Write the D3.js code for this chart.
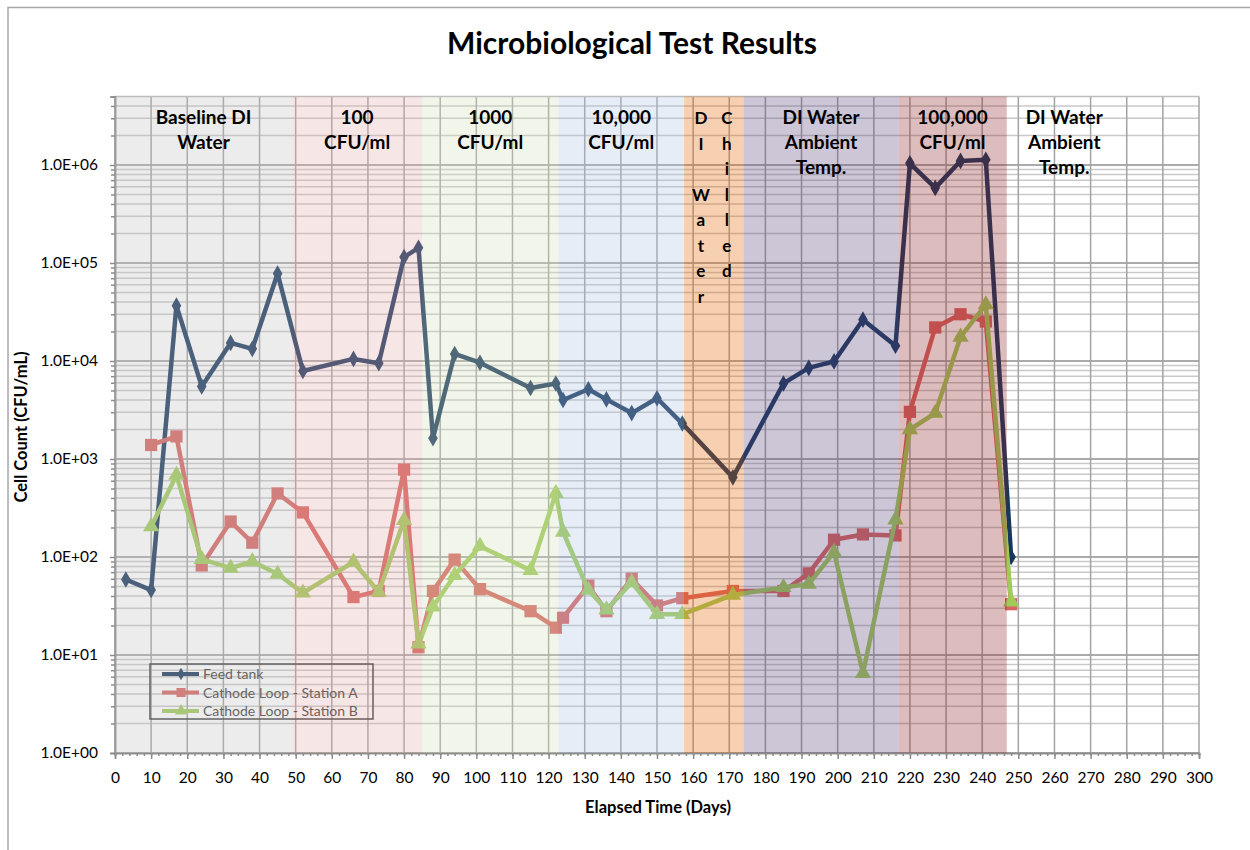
<!DOCTYPE html>
<html>
<head>
<meta charset="utf-8">
<script src="https://cdn.jsdelivr.net/npm/d3@7"></script>
<style>
    body { margin: 0; background: #fff; }
    svg { font-family: Lato, 'Open Sans', sans-serif; }
</style>
</head>
<body>
<svg id="chart" width="1250" height="850"></svg>
<script>
// sample days, feed tank has one extra reading at the start
const days = [3, 10, 17, 24, 32, 38, 45, 52, 66, 73, 80, 84, 88, 94, 101, 115, 122, 124, 131, 136,
    143, 150, 157, 171, 185, 192, 199, 207, 216, 220, 227, 234, 241, 248];

const feedTank = [59, 46, 36700, 5500, 15300, 13300, 78000, 7900, 10500, 9500, 115000, 143000, 1630,
    11800, 9600, 5300, 5900, 4000, 5150, 4060, 2940, 4170, 2300, 650, 5900, 8500, 9900, 26400, 14300,
    1040000, 584000, 1100000, 1130000, 100];

const stationA = [1390, 1700, 82, 230, 140, 445, 285, 39, 45, 780, 12, 45, 94, 47, 28, 19, 24, 51, 28,
    60, 32, 38, 45, 45, 68, 150, 170, 166, 3030, 22000, 30000, 25300, 33];

const stationB = [204, 684, 95, 77, 90, 67, 43, 89, 44, 237, 13, 31, 65, 129, 73, 446, 180, 46, 29,
    55, 26, 26, 41, 49, 53, 112, 6.5, 240, 2000, 2940, 17600, 37600, 35];

const seriesNames = ['Feed tank', 'Cathode Loop - Station A', 'Cathode Loop - Station B'];

// test phases (day ranges)
const bandEdges = [0, 49, 85, 122.7, 157.5, 174, 216.8, 246.8, 278.6];
const bandLabels = [
    ['Baseline DI', 'Water'],
    ['100', 'CFU/ml'],
    ['1000', 'CFU/ml'],
    ['10,000', 'CFU/ml'],
    null,
    ['DI Water', 'Ambient', 'Temp.'],
    ['100,000', 'CFU/ml'],
    ['DI Water', 'Ambient', 'Temp.']
];
const chilledCols = [['D', 'I', '', 'W', 'a', 't', 'e', 'r'], ['C', 'h', 'i', 'l', 'l', 'e', 'd']];

const xTicks = d3.range(0, 301, 10);
const yTicks = [1, 10, 100, 1000, 10000, 100000, 1000000];

const seriesColors = ['#17375e', '#d9635f', '#a0cb59'];
const bandColors = ['#c0c0c0', '#e1acac', '#d0ddb8', '#acc3e1', '#e46400', '#584176', '#8a2026', 'none'];

const svg = d3.select('#chart');

const x = d3.scaleLinear().domain([0, 300]).range([115, 1199]);
const y = d3.scaleLog().domain([1, 5e6]).range([753, 753 - 98 * Math.log10(5e6)]);

const plotLeft = x(0), plotRight = x(300), plotTop = y(5e6), plotBottom = y(1);

// outer chart frame (only top/left edges show)
svg.append('path')
    .attr('d', `M8,850V7.5H1250`)
    .attr('fill', 'none')
    .attr('stroke', '#a6a6a6')
    .attr('stroke-width', 1.5);

svg.append('text')
    .attr('x', 632).attr('y', 54)
    .attr('text-anchor', 'middle')
    .attr('font-size', 30).attr('font-weight', 'bold')
    .text('Microbiological Test Results');

// grid
const minor = [];
yTicks.forEach(d => {
    for (let k = 2; k <= 9; k++) if (d * k < 5e6) minor.push(d * k);
});
const grid = svg.append('g');
grid.selectAll('.minor').data(minor).join('line')
    .attr('x1', plotLeft).attr('x2', plotRight)
    .attr('y1', d => y(d)).attr('y2', d => y(d))
    .attr('stroke', '#c9c9c9').attr('stroke-width', 1.5);
grid.selectAll('.major').data(yTicks).join('line')
    .attr('x1', plotLeft).attr('x2', plotRight)
    .attr('y1', d => y(d)).attr('y2', d => y(d))
    .attr('stroke', '#8f8f8f').attr('stroke-width', 1.5);
grid.selectAll('.vert').data(xTicks).join('line')
    .attr('x1', d => x(d)).attr('x2', d => x(d))
    .attr('y1', plotTop).attr('y2', plotBottom)
    .attr('stroke', '#a3a3a3').attr('stroke-width', 1.5);
grid.append('line')
    .attr('x1', plotLeft).attr('x2', plotRight).attr('y1', plotTop).attr('y2', plotTop)
    .attr('stroke', '#bdbdbd').attr('stroke-width', 1.5);

// axes
svg.append('g')
    .attr('transform', `translate(${plotLeft},0)`)
    .call(d3.axisLeft(y).tickValues(yTicks)
        .tickFormat(d => '1.0E+' + String(Math.round(Math.log10(d))).padStart(2, '0'))
        .tickSize(5).tickPadding(12));
svg.append('g')
    .attr('transform', `translate(${plotLeft},0)`)
    .call(d3.axisLeft(y).tickValues(minor).tickFormat('').tickSize(4));

svg.append('g')
    .attr('transform', `translate(0,${plotBottom})`)
    .call(d3.axisBottom(x).tickValues(xTicks).tickSize(6).tickPadding(13));
svg.append('g')
    .attr('transform', `translate(0,${plotBottom})`)
    .call(d3.axisBottom(x).tickValues(d3.range(0, 301, 2)).tickFormat('').tickSize(3));

svg.selectAll('.domain, .tick line')
    .attr('stroke', '#8c8c8c').attr('stroke-width', 1.5);
svg.selectAll('.tick text')
    .attr('font-family', 'Lato, sans-serif')
    .attr('font-size', 15.5).attr('fill', '#000');

svg.append('text')
    .attr('x', 658).attr('y', 813)
    .attr('text-anchor', 'middle')
    .attr('font-size', 16.5).attr('font-weight', 'bold')
    .text('Elapsed Time (Days)');
svg.append('text')
    .attr('transform', 'translate(27,427) rotate(-90)')
    .attr('text-anchor', 'middle')
    .attr('font-size', 16.5).attr('font-weight', 'bold')
    .text('Cell Count (CFU/mL)');

// series
const series = [
    { values: feedTank, days: days, symbol: d3.symbolDiamond, size: 80 },
    { values: stationA, days: days.slice(1), symbol: d3.symbolSquare, size: 150 },
    { values: stationB, days: days.slice(1), symbol: d3.symbolTriangle, size: 115 }
];
const line = d3.line().x(d => x(d[0])).y(d => y(d[1]));

series.forEach((s, i) => {
    const pts = s.days.map((d, j) => [d, s.values[j]]);
    const g = svg.append('g');
    g.append('path')
        .attr('d', line(pts))
        .attr('fill', 'none')
        .attr('stroke', seriesColors[i])
        .attr('stroke-width', 4.5)
        .attr('stroke-linejoin', 'round');
    g.selectAll('path.mk').data(pts).join('path')
        .attr('class', 'mk')
        .attr('transform', d => `translate(${x(d[0])},${y(d[1])})`)
        .attr('d', d3.symbol().type(s.symbol).size(s.size))
        .attr('fill', seriesColors[i]);
});

// legend
const legend = svg.append('g').attr('transform', 'translate(150,664)');
legend.append('rect')
    .attr('width', 223).attr('height', 55)
    .attr('fill', 'none')
    .attr('stroke', '#3a3a3a').attr('stroke-width', 1.5);
seriesNames.forEach((name, i) => {
    const ly = 10 + i * 18.5;
    legend.append('line')
        .attr('x1', 12).attr('x2', 49).attr('y1', ly).attr('y2', ly)
        .attr('stroke', seriesColors[i]).attr('stroke-width', 4);
    legend.append('path')
        .attr('transform', `translate(31,${ly})`)
        .attr('d', d3.symbol().type(series[i].symbol).size(series[i].size * 0.55))
        .attr('fill', seriesColors[i]);
    legend.append('text')
        .attr('x', 53).attr('y', ly + 5)
        .attr('font-size', 14).attr('fill', '#3c3c3c')
        .text(name);
});

// shaded test phases on top, translucent
svg.append('g').selectAll('rect')
    .data(d3.range(bandEdges.length - 1))
    .join('rect')
    .attr('x', i => x(bandEdges[i]))
    .attr('width', i => x(bandEdges[i + 1]) - x(bandEdges[i]))
    .attr('y', plotTop).attr('height', plotBottom - plotTop)
    .attr('fill', i => bandColors[i])
    .attr('opacity', 0.3);

const labels = svg.append('g')
    .attr('font-size', 19).attr('font-weight', 'bold')
    .attr('text-anchor', 'middle');
bandLabels.forEach((lines, i) => {
    if (!lines) return;
    const cx = x((bandEdges[i] + bandEdges[i + 1]) / 2);
    lines.forEach((t, j) => {
        labels.append('text').attr('x', cx).attr('y', 124 + j * 25).text(t);
    });
});
const chilledX = x((bandEdges[4] + bandEdges[5]) / 2);
chilledCols.forEach((col, c) => {
    col.forEach((t, j) => {
        labels.append('text')
            .attr('x', chilledX + (c ? 13 : -13))
            .attr('y', 124 + j * 25.5)
            .attr('font-size', 17)
            .text(t);
    });
});
</script>
</body>
</html>
